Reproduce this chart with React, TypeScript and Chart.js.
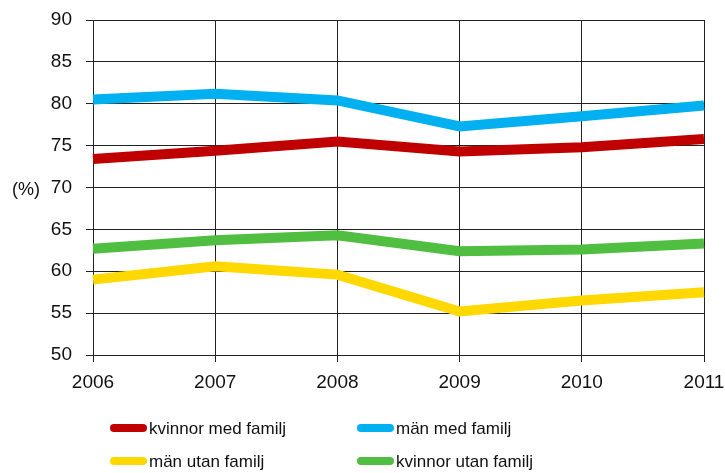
import React, { useEffect, useRef } from "react";
import { Chart, registerables } from "chart.js";

Chart.register(...registerables);

const years = ["2006", "2007", "2008", "2009", "2010", "2011"];
const kvinnorMedFamilj = [73.4, 74.4, 75.5, 74.3, 74.8, 75.8];
const manMedFamilj = [80.5, 81.2, 80.4, 77.3, 78.5, 79.8];
const manUtanFamilj = [59.0, 60.6, 59.6, 55.2, 56.5, 57.5];
const kvinnorUtanFamilj = [62.7, 63.7, 64.3, 62.4, 62.6, 63.3];

const seriesLabels = ["kvinnor med familj", "män med familj", "män utan familj", "kvinnor utan familj"];
const seriesColors = ["#C00000", "#00B0F0", "#FFD800", "#50BE41"];
const yMin = 50;
const yMax = 90;
const yStep = 5;
const yUnit = "(%)";

const FONT = '"Liberation Sans", Arial, sans-serif';

const legendPlugin = {
  id: "customLegend",
  afterDraw(chart: any) {
    const ctx = chart.ctx;
    const { left, bottom, top } = chart.chartArea;
    const cols = [left + 17, left + 264];
    const rows = [bottom + 73, bottom + 106];
    chart.data.datasets.forEach((ds: any, i: number) => {
      const x = cols[i % 2];
      const y = rows[Math.floor(i / 2)];
      ctx.save();
      ctx.strokeStyle = ds.borderColor;
      ctx.lineWidth = 8;
      ctx.lineCap = "round";
      ctx.beginPath();
      ctx.moveTo(x + 4, y);
      ctx.lineTo(x + 33, y);
      ctx.stroke();
      ctx.fillStyle = "#111";
      ctx.font = "17px " + FONT;
      ctx.textBaseline = "middle";
      ctx.textAlign = "left";
      ctx.fillText(ds.label, x + 39, y + 1);
      ctx.restore();
    });
    ctx.save();
    ctx.fillStyle = "#111";
    ctx.font = "18px " + FONT;
    ctx.textAlign = "center";
    ctx.textBaseline = "middle";
    ctx.fillText(yUnit, 26, (top + bottom) / 2 + 3);
    ctx.restore();
  },
};

export default function App() {
  const ref = useRef<HTMLCanvasElement | null>(null);
  useEffect(() => {
    document.body.style.margin = "0";
    if (!ref.current) return;
    const series = [kvinnorMedFamilj, manMedFamilj, manUtanFamilj, kvinnorUtanFamilj];
    const chart = new Chart(ref.current, {
      type: "line",
      data: {
        labels: years,
        datasets: series.map((d, i) => ({
          label: seriesLabels[i],
          data: d,
          borderColor: seriesColors[i],
          backgroundColor: seriesColors[i],
          borderWidth: 10,
          pointRadius: 0,
          tension: 0,
          borderCapStyle: "butt",
          borderJoinStyle: "miter",
          fill: false,
        })),
      },
      options: {
        responsive: false,
        animation: false,
        layout: { padding: { top: 20, right: 21, bottom: 78, left: 0 } },
        plugins: { legend: { display: false }, tooltip: { enabled: false } },
        scales: {
          x: {
            offset: false,
            grid: { color: "#222", lineWidth: 1, tickLength: 7, drawTicks: true },
            border: { color: "#222", width: 1 },
            ticks: { color: "#111", font: { family: FONT, size: 19 }, padding: 9, maxRotation: 0, autoSkip: false },
            afterFit(scale: any) {
              scale.height = 40;
              scale.paddingLeft = 0;
              scale.paddingRight = 0;
            },
          },
          y: {
            min: yMin,
            max: yMax,
            grid: { color: "#222", lineWidth: 1, tickLength: 7 },
            border: { color: "#222", width: 1 },
            ticks: { stepSize: yStep, color: "#111", font: { family: FONT, size: 19 }, padding: 14 },
            afterFit(scale: any) {
              scale.width = 93;
              scale.paddingTop = 0;
              scale.paddingBottom = 0;
            },
          },
        },
      },
      plugins: [legendPlugin],
    } as any);
    return () => chart.destroy();
  }, []);
  return (
    <div style={{ width: 725, height: 473 }}>
      <canvas ref={ref} width={725} height={473} />
    </div>
  );
}
